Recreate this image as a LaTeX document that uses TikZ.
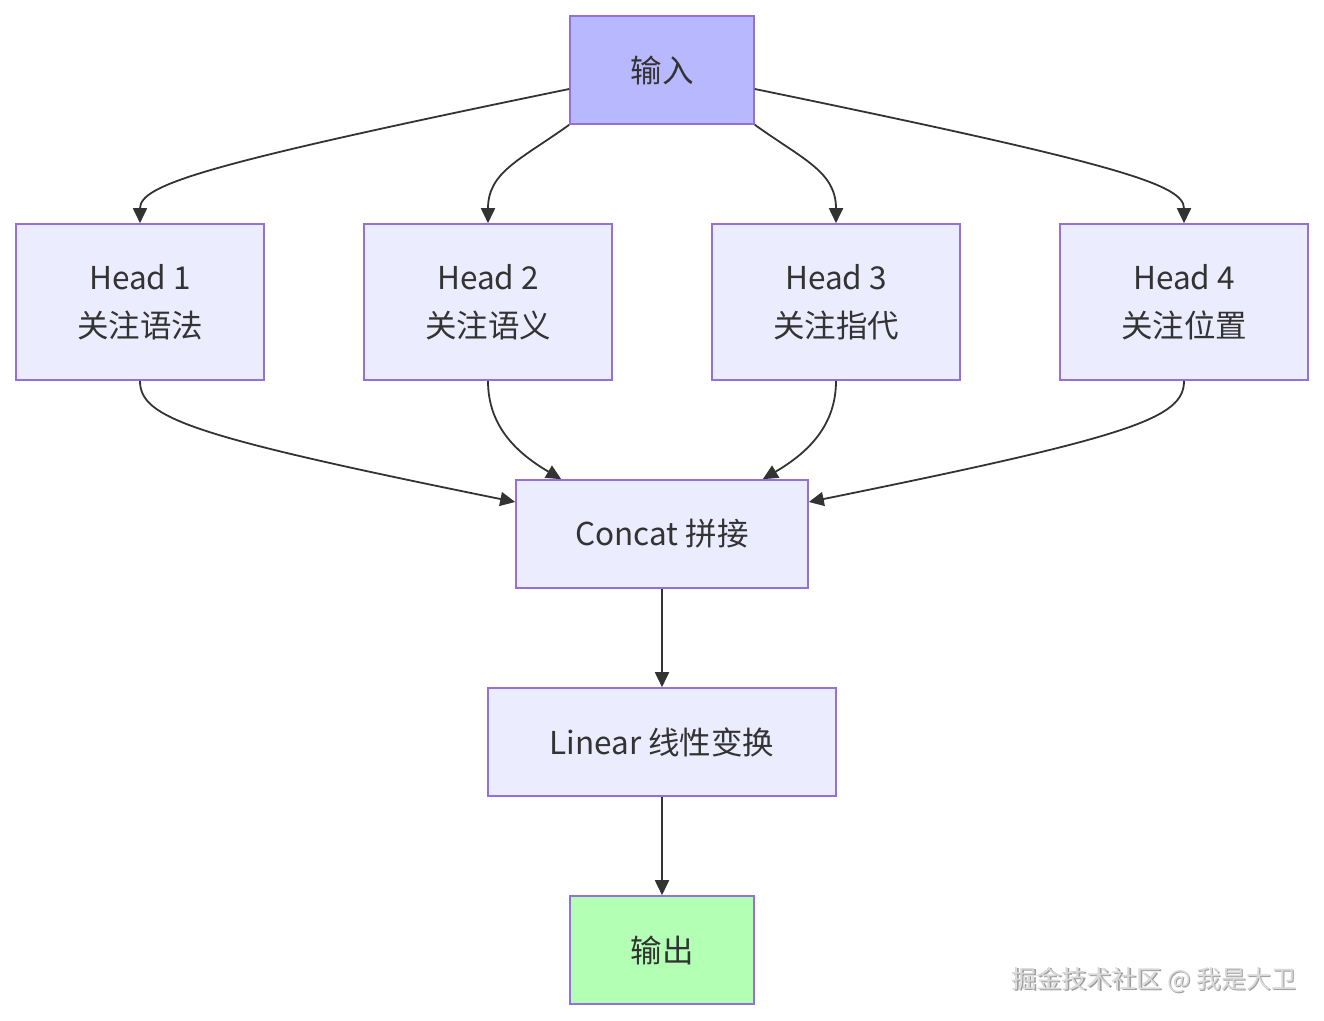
\documentclass[tikz,border=0pt]{standalone}
\usepackage{fontspec}
\setmainfont{Noto Sans CJK SC}
\usetikzlibrary{arrows.meta,calc}
\definecolor{nodefill}{HTML}{ECECFF}
\definecolor{nodestroke}{HTML}{9370DB}
\definecolor{infill}{HTML}{B8B8FF}
\definecolor{outfill}{HTML}{B3FFB3}
\definecolor{txt}{HTML}{333333}
\definecolor{edge}{HTML}{333333}
\begin{document}
\begin{tikzpicture}[x=1pt,y=-1pt,
  box/.style={draw=nodestroke, line width=1.6pt, fill=nodefill, text=txt, inner sep=0pt,
    font=\fontsize{31.5}{48}\selectfont, align=center},
  headbox/.style={box, minimum width=248pt, minimum height=156pt},
  wide/.style={box, minimum height=108pt},
  arr/.style={draw=edge, line width=1.8pt, -{Triangle[length=15pt,width=14pt]}},
  wm/.style={font=\fontsize{25}{25}\selectfont, inner sep=0pt}
]
\useasboundingbox (0,0) rectangle (1324,1020);

\node[wide, minimum width=184pt, fill=infill] (in) at (662,70) {输入};
\node[headbox] (h1) at (140,302) {Head 1\\关注语法};
\node[headbox] (h2) at (488,302) {Head 2\\关注语义};
\node[headbox] (h3) at (836,302) {Head 3\\关注指代};
\node[headbox] (h4) at (1184,302) {Head 4\\关注位置};
\node[wide, minimum width=292pt] (cc) at (662,534) {Concat 拼接};
\node[wide, minimum width=348pt] (lin) at (662,742) {Linear 线性变换};
\node[wide, minimum width=184pt, fill=outfill] (out) at (662,950) {输出};

\draw[arr] ([yshift=-19pt]in.west) .. controls (200,165) and (140,185) .. (h1.north);
\draw[arr] (in.south west) .. controls (520,160) and (488,172) .. (h2.north);
\draw[arr] (in.south east) .. controls (804,160) and (836,172) .. (h3.north);
\draw[arr] ([yshift=-19pt]in.east) .. controls (1124,165) and (1184,185) .. (h4.north);

\draw[arr] (h1.south) .. controls (140,418) and (190,436) .. ([yshift=32pt]cc.west);
\draw[arr] (h2.south) .. controls (488,425) and (515,452) .. ([xshift=46pt]cc.north west);
\draw[arr] (h3.south) .. controls (836,425) and (809,452) .. ([xshift=-46pt]cc.north east);
\draw[arr] (h4.south) .. controls (1184,418) and (1134,436) .. ([yshift=32pt]cc.east);

\draw[arr] (cc.south) -- (lin.north);
\draw[arr] (lin.south) -- (out.north);

\node[wm, text=gray!75] (wms) at (1155.5,981.5) {掘金技术社区 @ 我是大卫};
\node[wm, text=gray!30] (wmt) at (1154,980) {掘金技术社区 @ 我是大卫};
\end{tikzpicture}
\end{document}
